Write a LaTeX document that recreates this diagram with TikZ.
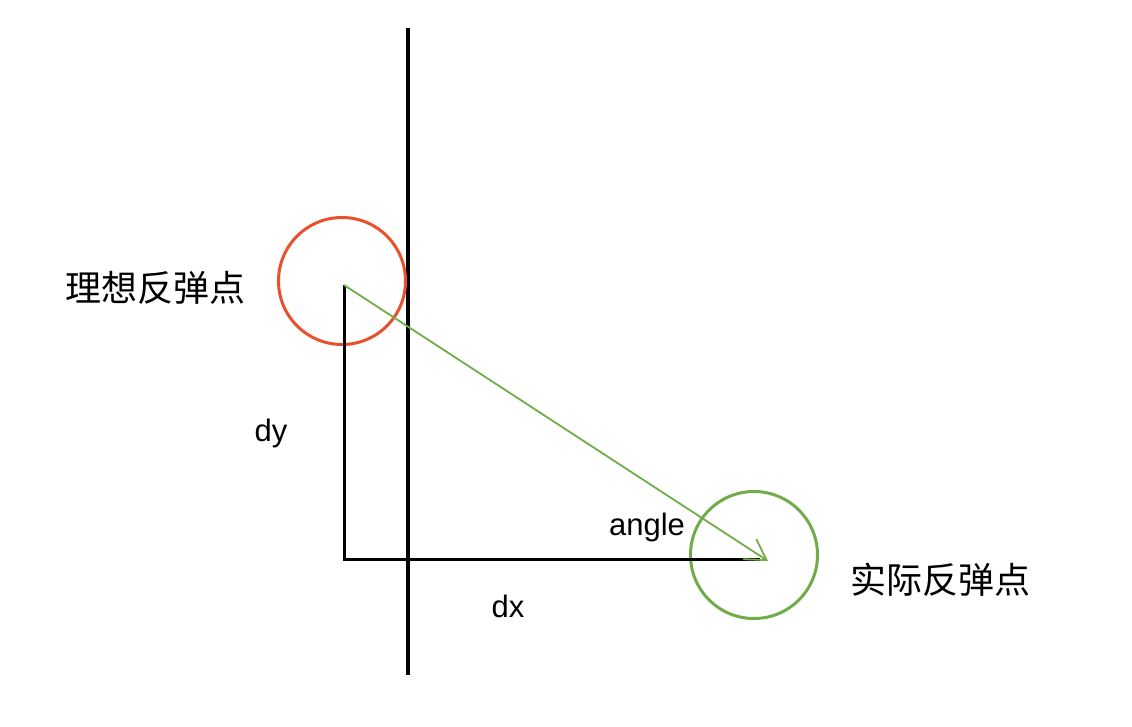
\documentclass[tikz,border=0pt]{standalone}
\usepackage{fontspec}
\setmainfont{Liberation Sans}
\newfontfamily\cjk{Noto Sans CJK SC}
\usetikzlibrary{arrows.meta}
\definecolor{ballred}{HTML}{E8502E}
\definecolor{ballgreen}{HTML}{72AC4A}
\begin{document}
\begin{tikzpicture}[x=1pt,y=-1pt,
  ball/.style={circle,draw,line width=3pt,minimum size=127pt,inner sep=0pt},
  lbl/.style={font=\fontsize{31}{34}\selectfont,inner sep=0pt},
  cjklbl/.style={font=\cjk\fontsize{36}{40}\selectfont,inner sep=0pt},
  leg/.style={line width=3pt,black}]
\useasboundingbox (0,0) rectangle (1132,726);
\coordinate (wt) at (408,28);
\coordinate (wb) at (408,675);
\draw[line width=3.2pt] (wt) -- (wb);
\node[ball,draw=ballred] (ideal) at (342,281) {};
\node[ball,draw=ballgreen] (actual) at (754,555) {};
\coordinate (top) at (344,285);
\coordinate (corner) at (344,559);
\coordinate (right) at (760,559);
\coordinate (tip) at (768,561);
\draw[leg] (top) -- (corner) -- (right);
\draw[ballgreen,line width=1.8pt,-{Straight Barb[length=20pt,width=24pt,line width=1.8pt]}] (top) -- (tip);
\node[lbl] (dy) at (271,433) {dy};
\node[lbl] (dx) at (508,606) {dx};
\node[lbl] (angle) at (647,527) {angle};
\node[cjklbl] (il) at (155,288) {理想反弹点};
\node[cjklbl] (al) at (940,580) {实际反弹点};
\end{tikzpicture}
\end{document}
